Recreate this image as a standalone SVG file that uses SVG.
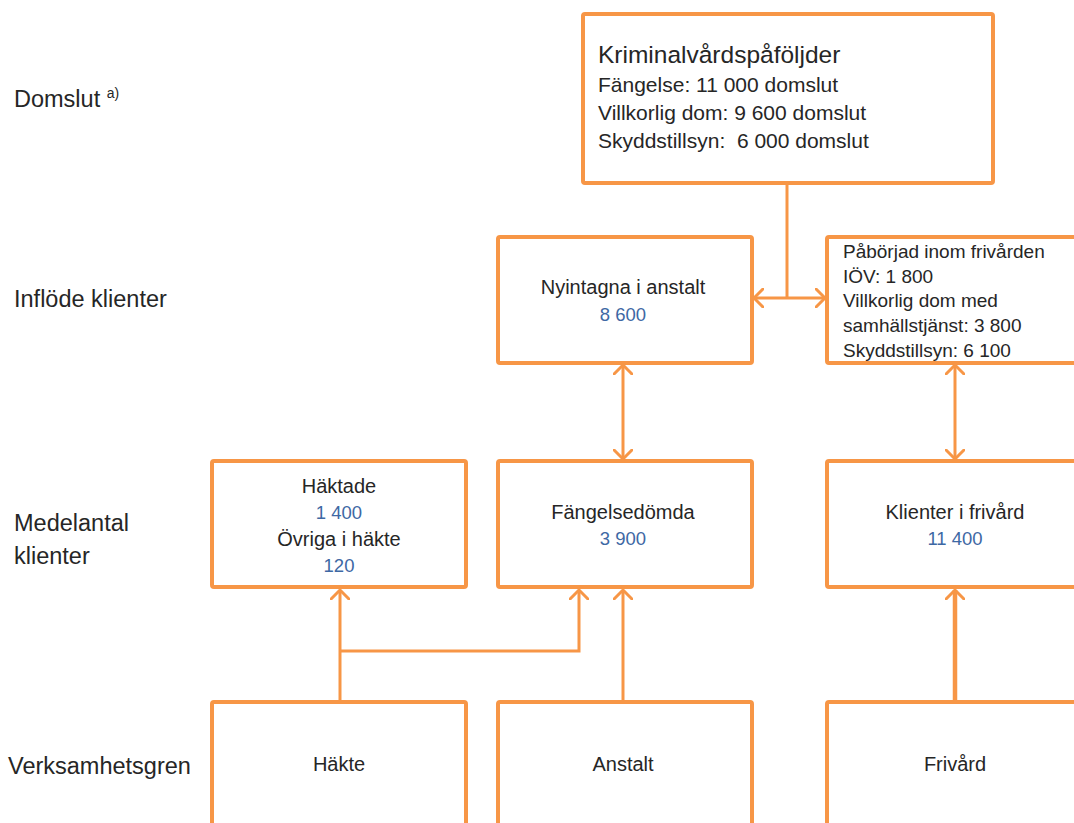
<svg xmlns="http://www.w3.org/2000/svg" width="1074" height="823" viewBox="0 0 1074 823">
  <style>
    .box { fill: #ffffff; stroke: #F79646; stroke-width: 4; }
    .conn { fill: none; stroke: #F79646; stroke-width: 3; }
    .thick { stroke-width: 4.5; }
    text { font-family: "Liberation Sans", Arial, sans-serif; fill: #262626; }
    .row { font-size: 23.5px; }
    .lbl { font-size: 20px; text-anchor: middle; }
    .num { font-size: 18.5px; text-anchor: middle; fill: #3E68A4; }
    .big { font-size: 24.5px; }
    .mid { font-size: 21px; }
    .small { font-size: 19px; }
    .bot { font-size: 20px; text-anchor: middle; }
  </style>
  <defs>
    <marker id="arr" viewBox="0 0 20 20" refX="10" refY="10" markerWidth="20" markerHeight="20" markerUnits="userSpaceOnUse" orient="auto-start-reverse">
      <polyline points="1,1 10,10 1,19" fill="none" stroke="#F79646" stroke-width="3" stroke-linecap="round" stroke-linejoin="round"/>
    </marker>
  </defs>
  <rect width="1074" height="823" fill="#ffffff"/>

  <g id="row-labels">
    <text class="row" x="14" y="107">Domslut <tspan font-size="14" dy="-9">a)</tspan></text>
    <text class="row" x="14" y="307">Inflöde klienter</text>
    <text class="row" x="14" y="531">Medelantal</text>
    <text class="row" x="14" y="564">klienter</text>
    <text class="row" x="8" y="774">Verksamhetsgren</text>
  </g>

  <g id="connectors">
    <line class="conn" x1="787" y1="183" x2="787" y2="298"/>
    <line class="conn" x1="787" y1="298" x2="754" y2="298" marker-end="url(#arr)"/>
    <line class="conn" x1="787" y1="298" x2="825" y2="298" marker-end="url(#arr)"/>
    <line class="conn" x1="623" y1="365" x2="623" y2="459" marker-start="url(#arr)" marker-end="url(#arr)"/>
    <line class="conn" x1="955" y1="365" x2="955" y2="459" marker-start="url(#arr)" marker-end="url(#arr)"/>
    <line class="conn" x1="340" y1="700" x2="340" y2="590" marker-end="url(#arr)"/>
    <polyline class="conn" points="340,651 579,651 579,590" marker-end="url(#arr)"/>
    <line class="conn" x1="623" y1="700" x2="623" y2="590" marker-end="url(#arr)"/>
    <line class="conn thick" x1="955" y1="700" x2="955" y2="590" marker-end="url(#arr)"/>
  </g>

  <g id="node-kriminalvard">
    <rect class="box" x="583" y="14" width="410" height="169" rx="2"/>
    <text class="big" x="598" y="63">Kriminalvårdspåföljder</text>
    <text class="mid" x="598" y="92">Fängelse: 11 000 domslut</text>
    <text class="mid" x="598" y="120">Villkorlig dom: 9 600 domslut</text>
    <text class="mid" x="598" y="148" xml:space="preserve">Skyddstillsyn:  6 000 domslut</text>
  </g>

  <g id="node-nyintagna">
    <rect class="box" x="498" y="237" width="254" height="126" rx="2"/>
    <text class="lbl" x="623" y="294">Nyintagna i anstalt</text>
    <text class="num" x="623" y="321">8 600</text>
  </g>

  <g id="node-paborjad">
    <rect class="box" x="827" y="237" width="260" height="126" rx="2"/>
    <text class="small" x="843" y="258">Påbörjad inom frivården</text>
    <text class="small" x="843" y="283">IÖV: 1 800</text>
    <text class="small" x="843" y="307">Villkorlig dom med</text>
    <text class="small" x="843" y="332">samhällstjänst: 3 800</text>
    <text class="small" x="843" y="357">Skyddstillsyn: 6 100</text>
  </g>

  <g id="node-haktade">
    <rect class="box" x="212" y="461" width="254" height="126" rx="2"/>
    <text class="lbl" x="339" y="493">Häktade</text>
    <text class="num" x="339" y="519">1 400</text>
    <text class="lbl" x="339" y="546">Övriga i häkte</text>
    <text class="num" x="339" y="572">120</text>
  </g>

  <g id="node-fangelsedomda">
    <rect class="box" x="498" y="461" width="254" height="126" rx="2"/>
    <text class="lbl" x="623" y="519">Fängelsedömda</text>
    <text class="num" x="623" y="545">3 900</text>
  </g>

  <g id="node-klienter">
    <rect class="box" x="827" y="461" width="260" height="126" rx="2"/>
    <text class="lbl" x="955" y="519">Klienter i frivård</text>
    <text class="num" x="955" y="545">11 400</text>
  </g>

  <g id="node-hakte">
    <rect class="box" x="212" y="702" width="254" height="140" rx="2"/>
    <text class="bot" x="339" y="771">Häkte</text>
  </g>

  <g id="node-anstalt">
    <rect class="box" x="498" y="702" width="254" height="140" rx="2"/>
    <text class="bot" x="623" y="771">Anstalt</text>
  </g>

  <g id="node-frivard">
    <rect class="box" x="827" y="702" width="260" height="140" rx="2"/>
    <text class="bot" x="955" y="771">Frivård</text>
  </g>
</svg>
